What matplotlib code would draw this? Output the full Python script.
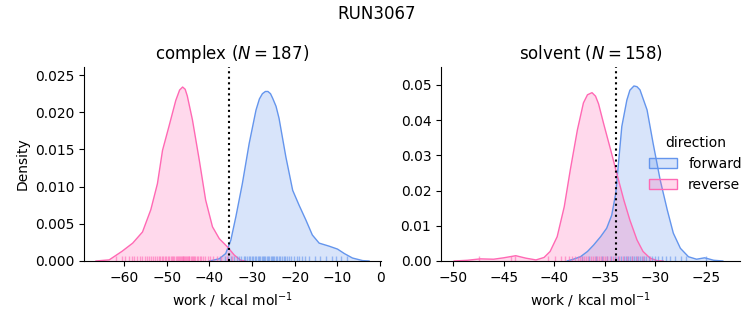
import numpy as np
import matplotlib
matplotlib.use('Agg')
import matplotlib.pyplot as plt
from matplotlib.patches import Patch
from matplotlib.colors import to_rgba

# KDE curves (x in kcal/mol, density)
cx_rev_x = [-66.6, -63.5, -60.5, -58.0, -55.7, -53.75, -52.2, -51.0, -49.5, -47.9, -47.0, -46.3, -45.7, -45.2,
            -44.0, -42.4, -40.9, -39.3, -37.7, -35.8, -34.2, -32.7, -31.5]
cx_rev_y = [0.0, 0.00015, 0.0013, 0.0024, 0.0039, 0.0069, 0.0104, 0.0149, 0.0181, 0.0216, 0.0230, 0.0234, 0.0231, 0.0222,
            0.019, 0.0136, 0.0082, 0.0046, 0.003, 0.0019, 0.0008, 0.0001, 0.0]
cx_fwd_x = [-40.0, -37.7, -36.2, -35.0, -33.8, -32.3, -30.7, -29.1, -28.3, -27.6, -26.9, -26.3, -25.7, -25.2, -24.4, -23.7,
            -22.1, -20.5, -19.0, -17.4, -15.9, -14.3, -12.0, -10.0, -8.4, -6.5, -4.1, -2.6]
cx_fwd_y = [0.0, 0.0003, 0.001, 0.0028, 0.006, 0.0104, 0.0158, 0.0203, 0.0218, 0.0225, 0.0228, 0.0228, 0.0225, 0.0219, 0.0208, 0.0192,
            0.014, 0.0095, 0.0075, 0.0055, 0.0035, 0.0024, 0.002, 0.0016, 0.001, 0.0004, 0.00005, 0.0]

sv_rev_x = [-49.9, -48.6, -47.3, -46.0, -45.0, -43.8, -42.8, -41.8, -41.0, -40.4, -39.7, -39.0, -38.4,
            -37.7, -37.1, -36.7, -36.25, -35.9, -35.6, -35.1, -34.4, -33.8, -33.1, -32.5, -31.8, -31.2, -30.5, -29.8, -29.2]
sv_rev_y = [0.0, 0.0002, 0.0006, 0.0005, 0.0009, 0.0015, 0.0008, 0.0003, 0.001, 0.0027, 0.0069, 0.0154, 0.0259,
            0.0372, 0.0449, 0.0472, 0.0478, 0.0468, 0.0446, 0.039, 0.0315, 0.0249, 0.0173, 0.0116, 0.006, 0.0027, 0.0008, 0.0001, 0.0]
sv_fwd_x = [-38.7, -38.1, -37.4, -36.7, -36.1, -35.4, -34.8, -34.3, -33.9, -33.6, -33.3, -32.8, -32.5, -32.1, -31.8,
            -31.5, -30.8, -30.2, -29.5, -28.8, -28.2, -27.5, -26.7, -25.9, -25.1, -24.2, -23.3]
sv_fwd_y = [0.0, 0.0005, 0.0012, 0.0027, 0.0045, 0.0069, 0.0093, 0.013, 0.0192, 0.0287, 0.0382, 0.0457, 0.0485, 0.0497, 0.0495,
            0.0486, 0.0429, 0.0334, 0.023, 0.0145, 0.0079, 0.0036, 0.0012, 0.0005, 0.0009, 0.0002, 0.0]

# rug positions (estimated)
cx_rev_rug = [-61.8, -60.5, -59.7, -58.9, -58.2, -57.6, -56.9, -56.3, -55.8, -55.2, -54.7, -54.1, -53.6, -53.2,
              -52.8, -52.3, -51.9, -51.5, -51.1, -50.8, -50.4, -50.1, -49.7, -49.4, -49.1, -48.8, -48.5, -48.2,
              -47.9, -47.7, -47.4, -47.2, -46.9, -46.7, -46.5, -46.3, -46.1, -45.9, -45.7, -45.5, -45.3, -45.1,
              -44.9, -44.7, -44.4, -44.2, -43.9, -43.6, -43.3, -43.0, -42.7, -42.3, -41.9, -41.5, -41.0, -40.4,
              -39.8, -39.1, -38.3, -37.2, -35.9, -34.8]
cx_fwd_rug = [-37.5, -36.4, -35.6, -34.9, -34.2, -33.6, -33.0, -32.5, -32.0, -31.6, -31.2, -30.8, -30.4, -30.0,
              -29.7, -29.3, -29.0, -28.7, -28.4, -28.1, -27.8, -27.5, -27.2, -26.9, -26.6, -26.3, -26.0, -25.7,
              -25.4, -25.1, -24.8, -24.5, -24.1, -23.8, -23.4, -23.0, -22.6, -22.2, -21.8, -21.3, -20.8, -20.2,
              -19.6, -19.0, -18.3, -17.5, -16.6, -15.3, -14.1, -12.8, -11.2, -10.3, -9.1, -7.8]
sv_rev_rug = [-47.4, -44.3, -43.9, -40.6, -39.9, -39.3, -38.9, -38.5, -38.2, -37.9, -37.6, -37.4, -37.2, -37.0,
              -36.8, -36.6, -36.4, -36.2, -36.0, -35.8, -35.6, -35.4, -35.2, -35.0, -34.8, -34.5, -34.2, -33.9,
              -33.6, -33.2, -32.8, -32.3, -31.8, -31.2, -30.5]
sv_fwd_rug = [-37.2, -36.5, -35.9, -35.3, -34.8, -34.4, -34.0, -33.7, -33.4, -33.1, -32.9, -32.7, -32.5, -32.3,
              -32.1, -31.9, -31.7, -31.5, -31.3, -31.1, -30.9, -30.6, -30.3, -30.0, -29.7, -29.3, -28.9, -28.5,
              -28.0, -27.4, -26.9, -25.0]

# free energy estimates (dotted lines)
cx_dg = -35.4
sv_dg = -33.9

fwd_color = 'cornflowerblue'
rev_color = 'hotpink'

fig = plt.figure(figsize=(7.53, 3.25), dpi=100)
ax1 = fig.add_axes([0.1116, 0.197, 0.3944, 0.597])
ax2 = fig.add_axes([0.5857, 0.197, 0.397, 0.597])


def draw_panel(ax, fx, fy, rx, ry, frug, rrug, dg):
    for x, y, c in [(fx, fy, fwd_color), (rx, ry, rev_color)]:
        ax.fill_between(x, y, 0, facecolor=to_rgba(c, 0.25), edgecolor='none')
        ax.plot(x, y, color=c, lw=1.0)
    ax.vlines(frug, 0, 0.025, transform=ax.get_xaxis_transform(), color=fwd_color, alpha=0.6, lw=1)
    ax.vlines(rrug, 0, 0.025, transform=ax.get_xaxis_transform(), color=rev_color, alpha=0.6, lw=1)
    ax.axvline(dg, color='k', ls=':', lw=1.5)
    ax.spines['top'].set_visible(False)
    ax.spines['right'].set_visible(False)
    ax.set_xlabel('work / kcal mol$^{-1}$')


draw_panel(ax1, cx_fwd_x, cx_fwd_y, cx_rev_x, cx_rev_y, cx_fwd_rug, cx_rev_rug, cx_dg)
ax1.set_xlim(-69.4, 0.2)
ax1.set_ylim(0, 0.0261)
ax1.set_xticks([-60, -50, -40, -30, -20, -10, 0])
ax1.set_ylabel('Density')
ax1.set_title('complex ($N = 187$)')

draw_panel(ax2, sv_fwd_x, sv_fwd_y, sv_rev_x, sv_rev_y, sv_fwd_rug, sv_rev_rug, sv_dg)
ax2.set_xlim(-51.2, -21.6)
ax2.set_ylim(0, 0.0551)
ax2.set_xticks([-50, -45, -40, -35, -30, -25])
ax2.set_yticks([0, 0.01, 0.02, 0.03, 0.04, 0.05])
ax2.set_title('solvent ($N = 158$)')

handles = [Patch(facecolor=to_rgba(fwd_color, 0.25), edgecolor=fwd_color, label='forward'),
           Patch(facecolor=to_rgba(rev_color, 0.25), edgecolor=rev_color, label='reverse')]
ax2.legend(handles=handles, title='direction', frameon=False, loc='center left',
           bbox_to_anchor=(0.655, 0.5))

fig.suptitle('RUN3067', y=0.985)

fig.savefig('out.png', dpi=100)
